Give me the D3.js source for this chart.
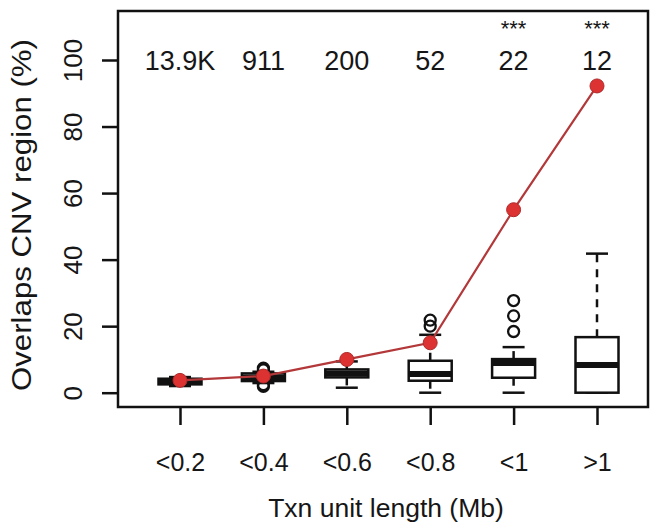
<!DOCTYPE html>
<html>
<head>
<meta charset="utf-8">
<script src="https://cdn.jsdelivr.net/npm/d3@7"></script>
<style>
  html, body { margin: 0; padding: 0; background: #fff; }
  svg { display: block; }
  text { font-family: "Liberation Sans", Arial, Helvetica, sans-serif; fill: #161616; }
</style>
</head>
<body>
<svg id="chart" width="653" height="527"></svg>
<script>
// Transcription-unit length bins
const categories = ["<0.2", "<0.4", "<0.6", "<0.8", "<1", ">1"];
// Number of units in each bin
const counts = ["13.9K", "911", "200", "52", "22", "12"];
// Significance marks per bin
const signif = ["", "", "", "", "***", "***"];
// Percentage of units overlapping a CNV region
const overlapPct = [3.7, 5.0, 10.0, 15.0, 55.0, 92.2];
// Boxplot summaries: lower whisker, Q1, median, Q3, upper whisker
const whiskerLow = [2.0, 2.9, 1.5, 0.0, 0.0, 0.0];
const q1 = [2.5, 3.5, 4.6, 3.6, 4.5, 0.0];
const median = [3.2, 4.6, 5.8, 5.6, 8.9, 8.3];
const q3 = [4.2, 5.8, 7.0, 9.6, 10.1, 16.7];
const whiskerHigh = [4.7, 6.3, 9.4, 17.4, 13.7, 41.8];
// Outlying values per bin
const outliers = [[], [1.9, 2.4, 6.9, 7.4], [], [20.0, 21.8], [18.4, 23.1, 27.7], []];
const yTicks = [0, 20, 40, 60, 80, 100];

const svg = d3.select("#chart");
const frame = { left: 118, right: 648, top: 11, bottom: 407 };

const x = d3.scalePoint().domain(categories).range([180, 597]).padding(0);
const y = d3.scaleLinear().domain([0, 100]).range([392.7, 60]);

const boxHalf = 21.5, capHalf = 11;
const ink = "#111";

// Boxplots
const groups = svg.append("g").selectAll("g")
  .data(categories.map((c, i) => ({
    c, lo: whiskerLow[i], q1: q1[i], med: median[i], q3: q3[i], hi: whiskerHigh[i], out: outliers[i]
  })))
  .join("g");

// dashed whiskers
groups.append("line")
  .attr("x1", d => x(d.c)).attr("x2", d => x(d.c))
  .attr("y1", d => y(d.q3)).attr("y2", d => y(d.hi))
  .attr("stroke", ink).attr("stroke-width", 2.5).attr("stroke-dasharray", "8,7");
groups.append("line")
  .attr("x1", d => x(d.c)).attr("x2", d => x(d.c))
  .attr("y1", d => y(d.q1)).attr("y2", d => y(d.lo))
  .attr("stroke", ink).attr("stroke-width", 2.5).attr("stroke-dasharray", "8,7");
// whisker caps
["lo", "hi"].forEach(k => {
  groups.append("line")
    .attr("x1", d => x(d.c) - capHalf).attr("x2", d => x(d.c) + capHalf)
    .attr("y1", d => y(d[k])).attr("y2", d => y(d[k]))
    .attr("stroke", ink).attr("stroke-width", 2.5);
});
// boxes
groups.append("rect")
  .attr("x", d => x(d.c) - boxHalf).attr("width", boxHalf * 2)
  .attr("y", d => y(d.q3)).attr("height", d => y(d.q1) - y(d.q3))
  .attr("fill", "#fff").attr("stroke", ink).attr("stroke-width", 2.5);
// medians
groups.append("line")
  .attr("x1", d => x(d.c) - boxHalf).attr("x2", d => x(d.c) + boxHalf)
  .attr("y1", d => y(d.med)).attr("y2", d => y(d.med))
  .attr("stroke", ink).attr("stroke-width", 6);
// outliers
groups.selectAll("circle")
  .data(d => d.out.map(v => ({ c: d.c, v })))
  .join("circle")
  .attr("cx", d => x(d.c)).attr("cy", d => y(d.v)).attr("r", 5.5)
  .attr("fill", "none").attr("stroke", ink).attr("stroke-width", 2.3);

// Overlap percentage line with points
const pts = categories.map((c, i) => [x(c), y(overlapPct[i])]);
svg.append("path")
  .attr("d", d3.line()(pts))
  .attr("fill", "none").attr("stroke", "#b3383a").attr("stroke-width", 2.2);
svg.append("g").selectAll("circle")
  .data(pts).join("circle")
  .attr("cx", d => d[0]).attr("cy", d => d[1]).attr("r", 7)
  .attr("fill", "#dc3232").attr("stroke", "#b02a2a").attr("stroke-width", 1);

// Counts and significance
svg.append("g").selectAll("text")
  .data(categories.map((c, i) => ({ c, t: counts[i] })))
  .join("text")
  .attr("x", d => x(d.c)).attr("y", 70)
  .attr("text-anchor", "middle").attr("font-size", 27)
  .text(d => d.t);
svg.append("g").selectAll("text")
  .data(categories.map((c, i) => ({ c, t: signif[i] })).filter(d => d.t))
  .join("text")
  .attr("x", d => x(d.c)).attr("y", 36)
  .attr("text-anchor", "middle").attr("font-size", 22)
  .text(d => d.t);

// Plot frame
svg.append("rect")
  .attr("x", frame.left).attr("y", frame.top)
  .attr("width", frame.right - frame.left).attr("height", frame.bottom - frame.top)
  .attr("fill", "none").attr("stroke", ink).attr("stroke-width", 2.5);

// Y axis
const yAxis = svg.append("g")
  .attr("transform", `translate(${frame.left},0)`)
  .call(d3.axisLeft(y).tickValues(yTicks).tickSize(16).tickPadding(0));
yAxis.select(".domain").remove();
yAxis.selectAll(".tick line").attr("stroke", ink).attr("stroke-width", 2.5);
yAxis.selectAll(".tick text")
  .attr("x", 0).attr("dy", 0)
  .attr("transform", "translate(-45,0) rotate(-90)")
  .attr("text-anchor", "middle").attr("dominant-baseline", "central")
  .attr("font-size", 26).attr("fill", "#161616");

// X axis
const xAxis = svg.append("g")
  .attr("transform", `translate(0,${frame.bottom})`)
  .call(d3.axisBottom(x).tickSize(18).tickPadding(0));
xAxis.select(".domain").remove();
xAxis.selectAll(".tick line").attr("stroke", ink).attr("stroke-width", 2.5);
xAxis.selectAll(".tick text")
  .attr("y", 55).attr("dy", 0)
  .attr("dominant-baseline", "central")
  .attr("font-size", 25).attr("fill", "#161616");

// Axis titles
svg.append("text")
  .attr("x", 386).attr("y", 508)
  .attr("text-anchor", "middle").attr("dominant-baseline", "central")
  .attr("font-size", 26.5)
  .text("Txn unit length (Mb)");
svg.append("text")
  .attr("transform", `translate(21,${(frame.top + frame.bottom) / 2 + 6}) rotate(-90)`)
  .attr("text-anchor", "middle").attr("dominant-baseline", "central")
  .attr("font-size", 28)
  .attr("textLength", 352).attr("lengthAdjust", "spacingAndGlyphs")
  .text("Overlaps CNV region (%)");
</script>
</body>
</html>
